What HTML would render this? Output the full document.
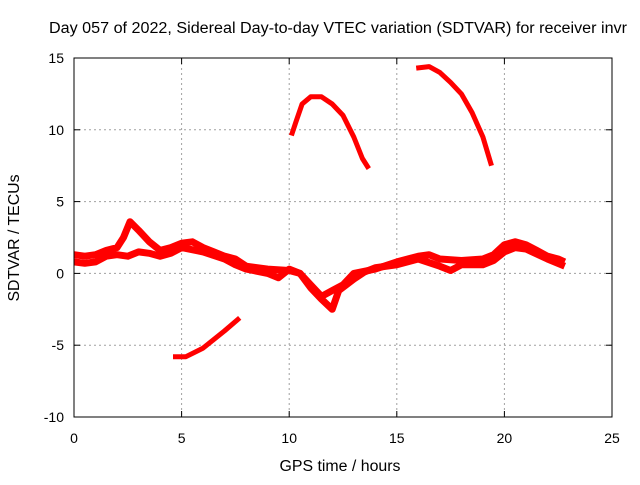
<!DOCTYPE html>
<html><head><meta charset="utf-8"><style>
body{margin:0;background:#fff}
svg text{font-family:"Liberation Sans",sans-serif;font-size:14px;fill:#000}
</style></head><body>
<svg id="c" width="640" height="480">
<rect width="640" height="480" fill="#fff"/>
<text x="338" y="33" text-anchor="middle" textLength="578" lengthAdjust="spacingAndGlyphs" style="font-size:15.5px">Day 057 of 2022, Sidereal Day-to-day VTEC variation (SDTVAR) for receiver invr</text>
<g id="grid"></g><g id="series"></g><g id="axes"></g>
<text x="340" y="471" text-anchor="middle" textLength="121" lengthAdjust="spacingAndGlyphs" style="font-size:15.5px">GPS time / hours</text>
<text transform="translate(19,238) rotate(-90)" text-anchor="middle" textLength="127" lengthAdjust="spacingAndGlyphs" style="font-size:15.5px">SDTVAR / TECUs</text>
</svg>
<script>
const xTicks=[0,5,10,15,20,25];
const yTicks=[-10,-5,0,5,10,15];
const bandUpperH=[0,0.5,1,1.5,2,2.3,2.6,3,3.5,4,4.5,5,5.5,6,6.5,7,7.5,8,9,10,10.5,11,11.5,12,12.5,13,14,15,16,16.5,17,18,19,19.5,20,20.5,21,21.5,22,22.5,22.8];
const bandUpperV=[1.3,1.2,1.3,1.6,1.8,2.5,3.6,3,2.2,1.6,1.8,2.1,2.2,1.8,1.5,1.2,1,0.5,0.3,0.2,0,-0.8,-1.6,-1.2,-0.8,0,0.3,0.8,1.2,1.3,1,0.9,1,1.3,2,2.2,2,1.6,1.2,1,0.8];
const bandLowerH=[0,0.5,1,1.5,2,2.5,3,3.5,4,4.5,5,6,7,7.5,8,9,9.5,10,10.5,11,11.5,12,12.3,13,13.5,14,15,16,17,17.5,18,19,19.5,20,20.5,21,22,22.8];
const bandLowerV=[0.8,0.7,0.8,1.2,1.3,1.2,1.5,1.4,1.2,1.4,1.8,1.5,1,0.6,0.3,0,-0.3,0.3,0,-1,-1.8,-2.5,-1.2,-0.4,0.1,0.4,0.6,1,0.5,0.2,0.6,0.6,0.9,1.5,1.8,1.7,1,0.5];
const arcLowH=[4.6,5.2,6,7,7.7];
const arcLowV=[-5.8,-5.8,-5.2,-4,-3.1];
const arc1H=[10.1,10.3,10.6,11,11.5,12,12.5,13,13.4,13.7];
const arc1V=[9.6,10.5,11.8,12.3,12.3,11.8,11,9.5,8,7.3];
const arc2H=[15.9,16.5,17,17.5,18,18.5,19,19.4];
const arc2V=[14.3,14.4,14,13.3,12.5,11.2,9.5,7.5];

const X0=74,X1=612,Y0=417,Y1=58;
const sx=h=>X0+(h-0)/(25-0)*(X1-X0);
const sy=v=>Y0-(v+10)/(25)*(Y0-Y1);
const NS='http://www.w3.org/2000/svg';
function mk(t,a,p){const e=document.createElementNS(NS,t);for(const k in a)e.setAttribute(k,a[k]);p.appendChild(e);return e;}
const grid=document.getElementById('grid'),axes=document.getElementById('axes'),ser=document.getElementById('series');
xTicks.forEach(t=>{
 if(t>0&&t<25){const g=mk('line',{x1:sx(t),x2:sx(t),y1:Y1,y2:Y0,stroke:'#a0a0a0','stroke-dasharray':'2,3'},grid);
 
 }
 const tk=mk('line',{x1:sx(t),x2:sx(t),y1:Y0,y2:Y0-6,stroke:'#000'},axes);
 
 
 mk('line',{x1:sx(t),x2:sx(t),y1:Y1,y2:Y1+6,stroke:'#000'},axes);
 const l=mk('text',{x:sx(t),y:Y0+26,'text-anchor':'middle'},axes);l.textContent=t;
 
 
});
yTicks.forEach(t=>{
 if(t>-10&&t<15){const g=mk('line',{x1:X0,x2:X1,y1:sy(t),y2:sy(t),stroke:'#a0a0a0','stroke-dasharray':'2,3'},grid);
 
 }
 const tk=mk('line',{x1:X0,x2:X0+6,y1:sy(t),y2:sy(t),stroke:'#000'},axes);
 
 
 mk('line',{x1:X1,x2:X1-6,y1:sy(t),y2:sy(t),stroke:'#000'},axes);
 const l=mk('text',{x:X0-10,y:sy(t)+5,'text-anchor':'end'},axes);l.textContent=t;
 
 
});
const fr=mk('rect',{x:X0,y:Y1,width:X1-X0,height:Y0-Y1,fill:'none',stroke:'#000'},axes);


function line(H,V,w,name){
 const d=H.map((h,i)=>(i?'L':'M')+sx(h).toFixed(1)+','+sy(V[i]).toFixed(1)).join('');
 const p=mk('path',{d:d,fill:'none',stroke:'#f00','stroke-width':w,'stroke-linejoin':'round','stroke-linecap':'butt'},ser);
 
 
}
line(bandUpperH,bandUpperV,7,'sdtvar-upper-band');
line(bandLowerH,bandLowerV,7,'sdtvar-lower-band');
line(arcLowH,arcLowV,5,'sdtvar-negative-arc');
line(arc1H,arc1V,5,'sdtvar-arc-11h');
line(arc2H,arc2V,5,'sdtvar-arc-17h');
</script>
</body></html>
